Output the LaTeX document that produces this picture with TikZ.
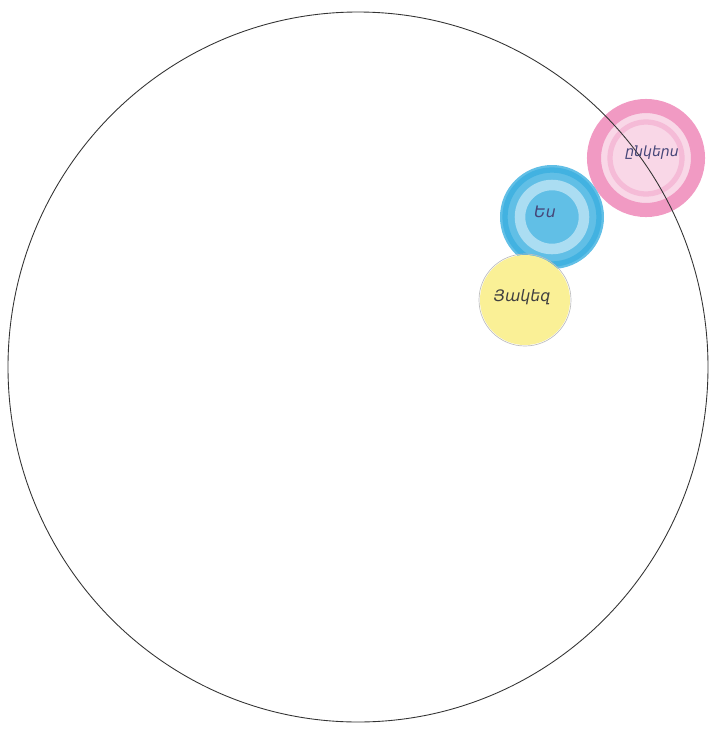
\documentclass[tikz,border=0pt]{standalone}
\usepackage{fontspec}
\usepackage{xcolor}
\newfontfamily\armfont{DejaVu Sans}
\definecolor{crayonpink}{RGB}{236,120,175}
\definecolor{crayonblue}{RGB}{45,170,222}
\definecolor{crayonyellow}{RGB}{250,240,150}
\definecolor{inkblue}{RGB}{70,70,120}

\begin{document}
\begin{tikzpicture}[x=0.02cm, y=-0.02cm]
  \useasboundingbox (0,0) rectangle (712,731);
  \fill[color=crayonpink!30] (646,158) circle (58); % friends
  \draw[line width=8pt, color=crayonpink!75] (646,158) circle (52);
  \draw[line width=3pt, color=crayonpink!50] (646,158) circle (36);
  \fill[color=crayonblue!75] (552,217) circle (52); % me
  \draw[line width=6pt, color=crayonblue!40] (552,217) circle (32);
  \draw[line width=3pt, color=crayonblue!90] (552,217) circle (47);
  \fill[color=crayonyellow] (525,300) circle (45); % family
  \draw[line width=0.4pt, color=black!25] (525,300) circle (46);
  \draw[line width=0.5pt, color=black!80] (358,367) ellipse (350 and 355); % world
  \node[font=\armfont\fontsize{8}{9}\selectfont\itshape, color=inkblue] (friends) at (652,153) {ընկերս};
  \node[font=\armfont\fontsize{9}{10}\selectfont\itshape, color=inkblue] (me) at (545,212) {Ես};
  \node[font=\armfont\fontsize{9}{10}\selectfont\itshape, color=black!75] (family) at (522,297) {Յակեզ};
\end{tikzpicture}
\end{document}
